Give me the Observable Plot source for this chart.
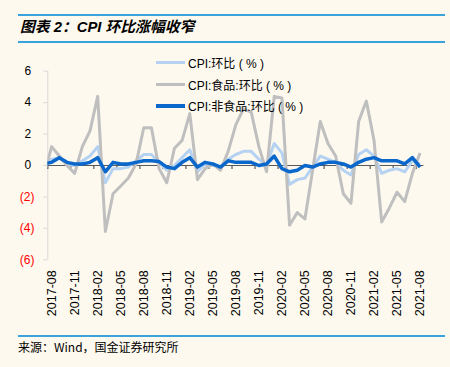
<!DOCTYPE html>
<html><head><meta charset="utf-8">
<script src="https://cdn.jsdelivr.net/npm/d3@7"></script>
<script src="https://cdn.jsdelivr.net/npm/@observablehq/plot@0.6"></script>
<style>
html,body{margin:0;padding:0;}
body{background:#fdf9ee;width:450px;height:367px;position:relative;overflow:hidden;font-family:"Liberation Sans",Arial,"Noto Sans CJK SC",sans-serif;}
.rule{position:absolute;left:18px;width:427px;height:2px;background:#3ba3dc;}
#title{position:absolute;left:20px;top:16px;font-size:14.8px;font-weight:bold;font-style:italic;font-family:"Liberation Sans",Arial,"Noto Sans CJK SC",sans-serif;color:#000;line-height:22px;white-space:nowrap;}
#chart{position:absolute;left:0;top:0;}
#legend{position:absolute;left:156px;top:52px;font-size:12px;color:#000;font-family:"Liberation Sans",Arial,"Noto Sans CJK SC",sans-serif;}
#legend .row{height:21.5px;display:flex;align-items:center;white-space:pre;}
#legend .sw{width:29px;height:3px;margin-right:3px;}
#source{position:absolute;left:18px;top:339px;font-size:12px;color:#000;font-family:"Noto Sans CJK SC",sans-serif;line-height:16px;white-space:nowrap;}
</style></head><body>
<div class="rule" style="top:14px"></div>
<div id="title">图表 2：CPI 环比涨幅收窄</div>
<div class="rule" style="top:41px"></div>
<div id="chart"></div>
<div id="legend"></div>
<div class="rule" style="top:335px"></div>
<div id="source">来源：Wind，国金证券研究所</div>
<script>
// months 2017-07 .. 2021-08 (2017-07 lies just left of the visible axis and is clipped)
const months = ["2017-07","2017-08","2017-09","2017-10","2017-11","2017-12",
"2018-01","2018-02","2018-03","2018-04","2018-05","2018-06","2018-07","2018-08","2018-09","2018-10","2018-11","2018-12",
"2019-01","2019-02","2019-03","2019-04","2019-05","2019-06","2019-07","2019-08","2019-09","2019-10","2019-11","2019-12",
"2020-01","2020-02","2020-03","2020-04","2020-05","2020-06","2020-07","2020-08","2020-09","2020-10","2020-11","2020-12",
"2021-01","2021-02","2021-03","2021-04","2021-05","2021-06","2021-07","2021-08"];
const cpi = [0.1,0.4,0.5,0.1,0.0,0.3,
0.6,1.2,-1.1,-0.2,-0.2,-0.1,0.3,0.7,0.7,0.2,-0.3,0.0,
0.5,1.0,-0.4,0.1,0.0,-0.1,0.4,0.7,0.9,0.9,0.4,0.0,
1.4,0.8,-1.2,-0.9,-0.8,-0.1,0.6,0.4,0.2,-0.3,-0.6,0.7,
1.0,0.6,-0.5,-0.3,-0.2,-0.4,0.3,0.1];
const food = [-0.6,1.2,0.6,0.0,-0.5,1.2,
2.2,4.4,-4.2,-1.8,-1.3,-0.8,0.1,2.4,2.4,-0.2,-1.1,1.1,
1.6,3.3,-0.9,-0.2,0.1,-0.3,0.9,2.6,3.6,3.4,1.2,-0.4,
4.4,4.3,-3.8,-3.0,-3.4,-0.3,2.8,1.4,0.6,-1.8,-2.4,2.8,
4.1,1.6,-3.6,-2.7,-1.7,-2.3,-0.5,0.8];
const nonfood = [0.1,0.2,0.5,0.2,0.1,0.1,
0.2,0.5,-0.4,0.2,0.1,0.1,0.2,0.3,0.3,0.25,-0.1,-0.2,
0.2,0.5,-0.1,0.2,0.1,-0.1,0.3,0.2,0.2,0.2,0.0,0.1,
0.6,-0.2,-0.4,-0.3,0.0,-0.1,0.1,0.2,0.2,0.1,-0.1,0.2,
0.4,0.5,0.3,0.3,0.3,0.1,0.5,-0.1];
const seriesNames = ["CPI:环比 ( % )","CPI:食品:环比 ( % )","CPI:非食品:环比 ( % )"];
const seriesColors = ["#b6d2f2","#bfbfbf","#0a68cc"];
const seriesWidths = [3,3,3.5];
const yTicks = [-6,-4,-2,0,2,4,6];
const firstShown = "2017-08";

const idx = months.map((m,i)=>i);
const i0 = months.indexOf(firstShown);
const labelIdx = idx.filter(i=>i>=i0 && (i-i0)%3===0);
const boundaryTicks = labelIdx.map(i=>i-0.5);
const seriesData = [cpi, food, nonfood];
const fmt = d => d < 0 ? `(${-d})` : `${d}\u00a0`;

const plot = Plot.plot({
  width:450, height:367,
  marginLeft:47.3, marginRight:26.6, marginTop:70.7, marginBottom:107.7,
  style:{background:"transparent", fontSize:"12px", fontFamily:"'Liberation Sans', Arial, sans-serif", color:"#000"},
  x:{type:"linear", domain:[i0-0.5, months.length-0.5], axis:null},
  y:{domain:[-6,6], axis:null},
  marks:[
    Plot.ruleX([i0-0.5], {stroke:"#d9d9d9", strokeWidth:1}),
    Plot.axisY(yTicks.filter(d=>d>=0), {tickSize:4, tickPadding:9.3, stroke:"#d9d9d9", fill:"#000", tickFormat:fmt, fontSize:12}),
    Plot.axisY(yTicks.filter(d=>d<0), {tickSize:4, tickPadding:9.3, stroke:"#d9d9d9", fill:"#ff0000", tickFormat:fmt, fontSize:12}),
    Plot.ruleY([0], {stroke:"#595959", strokeWidth:1.2}),
    Plot.ruleX(boundaryTicks, {x:d=>d, y1:0, y2:-0.25, stroke:"#595959", strokeWidth:1.2}),
    ...seriesData.map((vals,k)=>Plot.line(idx, {x:i=>i, y:i=>vals[i], stroke:seriesColors[k], strokeWidth:seriesWidths[k], strokeLinejoin:"round", strokeLinecap:"butt", clip:true})),
    Plot.text(labelIdx, {x:i=>i, frameAnchor:"bottom", text:i=>months[i], rotate:-90, textAnchor:"end", lineAnchor:"middle", dy:10.5, fontSize:12.5, fill:"#000"})
  ]
});
document.getElementById("chart").appendChild(plot);

const leg = document.getElementById("legend");
seriesNames.forEach((n,k)=>{
  const r = document.createElement("div"); r.className="row";
  const s = document.createElement("div"); s.className="sw"; s.style.background=seriesColors[k]; s.style.height=seriesWidths[k]+"px";
  const t = document.createElement("span"); t.textContent=n;
  r.appendChild(s); r.appendChild(t); leg.appendChild(r);
});
</script>
</body></html>
